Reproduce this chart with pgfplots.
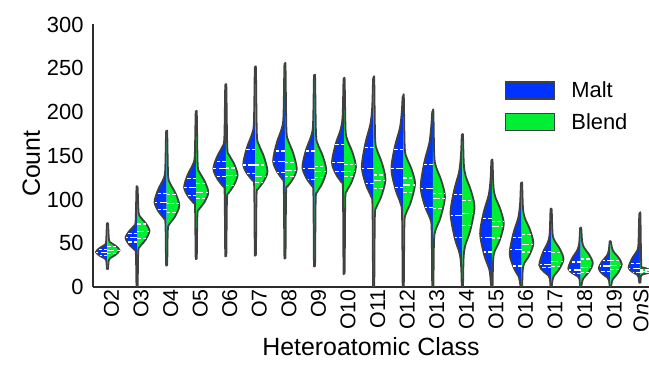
\documentclass[border=0pt]{standalone}
\usepackage{fontspec}
\setmainfont{Liberation Sans}
\usepackage{pgfplots}
\pgfplotsset{compat=1.18}
\usetikzlibrary{calc}
\definecolor{maltblue}{RGB}{0,51,255}
\definecolor{blendgreen}{RGB}{0,238,51}
\definecolor{vgray}{RGB}{64,64,64}
\definecolor{axgray}{RGB}{45,45,45}
\pgfplotsset{
  maltside/.style={forget plot, fill=maltblue, draw=vgray, line width=1.8pt, smooth, tension=0.5, line join=round},
  blendside/.style={forget plot, fill=blendgreen, draw=vgray, line width=1.8pt, smooth, tension=0.5, line join=round},
}
\newcommand{\halfL}[2]{\addplot[maltside] table[row sep=\\, x expr={#1-\thisrowno{1}}, y expr={\thisrowno{0}}] {#2};}
\newcommand{\halfR}[2]{\addplot[blendside] table[row sep=\\, x expr={#1+\thisrowno{1}}, y expr={\thisrowno{0}}] {#2};}
\begin{document}
\begin{tikzpicture}
\begin{axis}[
  scale only axis, width=556bp, height=262.5bp,
  xmin=-0.49, xmax=18.31, ymin=0, ymax=300,
  axis x line*=bottom, axis y line*=left,
  axis line style={axgray, line width=1.4pt, -},
  xtick={0,1,2,3,4,5,6,7,8,9,10,11,12,13,14,15,16,17,18},
  xticklabels={O2,O3,O4,O5,O6,O7,O8,O9,O10,O11,O12,O13,O14,O15,O16,O17,O18,O19,\raisebox{6bp}{O\textit{n}S}},
  ytick={0,50,100,150,200,250,300},
  major tick length=0pt,
  xticklabel style={rotate=90, anchor=east, font=\fontsize{21.5}{26}\selectfont, inner xsep=2bp, inner ysep=0pt, yshift=-4bp},
  yticklabel style={font=\fontsize{22}{26}\selectfont, xshift=-6bp},
  /pgf/number format/assume math mode=true,
  xlabel={Heteroatomic Class}, ylabel={Count},
  label style={font=\fontsize{25}{30}\selectfont},
  ylabel style={xshift=-8bp},
  unbounded coords=jump,
  legend style={draw=none, fill=none, at={(0.741,0.79)}, anchor=north west,
    font=\fontsize{22}{26}\selectfont, row sep=10bp, inner sep=0pt,
    /tikz/every odd column/.append style={column sep=14bp}},
  legend cell align=left,
  legend image code/.code={\draw[#1] (0bp,-8.5bp) rectangle (49bp,8.5bp);},
]
\coordinate (BL) at (rel axis cs:0,0);
\coordinate (TR) at (rel axis cs:1,1);
\addlegendimage{fill=maltblue, draw=vgray, line width=1.2pt}
\addlegendentry{Malt}
\addlegendimage{fill=blendgreen, draw=vgray, line width=1.2pt}
\addlegendentry{Blend}

\halfL{0}{21 0\\ 21 0.02\\ 30 0.04\\ 32.5 0.086\\ 35.5 0.254\\ 40 0.39\\ 44.4 0.273\\ 47.9 0.109\\ 51 0.05\\ 72 0.02\\ 72 0\\}
\halfR{0}{21 0\\ 21 0.02\\ 30 0.04\\ 33 0.09\\ 36.6 0.267\\ 42 0.41\\ 46.8 0.287\\ 50.6 0.115\\ 54 0.05\\ 72 0.02\\ 72 0\\}
\halfL{1}{1 0\\ 1 0.02\\ 38 0.04\\ 42.5 0.086\\ 47.9 0.254\\ 56 0.39\\ 63.6 0.273\\ 69.7 0.109\\ 75 0.05\\ 113 0.02\\ 113 0\\}
\halfR{1}{1 0\\ 1 0.02\\ 40 0.04\\ 46 0.092\\ 53.2 0.273\\ 64 0.42\\ 72.8 0.294\\ 79.8 0.118\\ 86 0.05\\ 113 0.02\\ 113 0\\}
\halfL{2}{27 0\\ 27 0.02\\ 72 0.04\\ 78.3 0.09\\ 85.8 0.267\\ 97 0.41\\ 111.4 0.287\\ 122.9 0.115\\ 133 0.05\\ 176 0.02\\ 176 0\\}
\halfR{2}{27 0\\ 27 0.02\\ 65 0.04\\ 72 0.095\\ 80.4 0.28\\ 93 0.43\\ 107 0.301\\ 118.2 0.12\\ 128 0.05\\ 176 0.02\\ 176 0\\}
\halfL{3}{35 0\\ 35 0.02\\ 90 0.04\\ 96 0.09\\ 103.2 0.267\\ 114 0.41\\ 128.4 0.287\\ 139.9 0.115\\ 150 0.05\\ 198 0.02\\ 198 0\\}
\halfR{3}{35 0\\ 35 0.02\\ 82 0.04\\ 88.5 0.09\\ 96.3 0.267\\ 108 0.41\\ 120.8 0.287\\ 131 0.115\\ 140 0.05\\ 198 0.02\\ 198 0\\}
\halfL{4}{39 0\\ 39 0.02\\ 108 0.04\\ 114.8 0.092\\ 122.9 0.273\\ 135 0.42\\ 149 0.294\\ 160.2 0.118\\ 170 0.05\\ 228 0.02\\ 228 0\\}
\halfR{4}{39 0\\ 39 0.02\\ 100 0.04\\ 107 0.088\\ 115.4 0.26\\ 128 0.40\\ 140.8 0.28\\ 151 0.112\\ 160 0.05\\ 228 0.02\\ 228 0\\}
\halfL{5}{40 0\\ 40 0.02\\ 115 0.04\\ 121.3 0.09\\ 128.8 0.267\\ 140 0.41\\ 159.2 0.287\\ 174.6 0.115\\ 188 0.05\\ 248 0.02\\ 248 0\\}
\halfR{5}{40 0\\ 40 0.02\\ 105 0.04\\ 111.8 0.09\\ 119.9 0.267\\ 132 0.41\\ 149.2 0.287\\ 163 0.115\\ 175 0.05\\ 248 0.02\\ 248 0\\}
\halfL{6}{37 0\\ 37 0.02\\ 116 0.04\\ 123 0.088\\ 131.4 0.26\\ 144 0.40\\ 164.4 0.28\\ 180.7 0.112\\ 195 0.05\\ 252 0.02\\ 252 0\\}
\halfR{6}{37 0\\ 37 0.02\\ 108 0.04\\ 114.8 0.088\\ 122.9 0.26\\ 135 0.40\\ 153 0.28\\ 167.4 0.112\\ 180 0.05\\ 252 0.02\\ 252 0\\}
\halfL{7}{28 0\\ 28 0.02\\ 108 0.04\\ 115.3 0.09\\ 124 0.267\\ 137 0.41\\ 156.6 0.287\\ 172.3 0.115\\ 186 0.05\\ 239 0.02\\ 239 0\\}
\halfR{7}{28 0\\ 28 0.02\\ 100 0.04\\ 108.3 0.088\\ 118.2 0.26\\ 133 0.40\\ 149.8 0.28\\ 163.2 0.112\\ 175 0.05\\ 239 0.02\\ 239 0\\}
\halfL{8}{20 0\\ 20 0.02\\ 112 0.04\\ 119.5 0.09\\ 128.5 0.267\\ 142 0.41\\ 163.2 0.287\\ 180.2 0.115\\ 195 0.05\\ 236 0.02\\ 236 0\\}
\halfR{8}{20 0\\ 20 0.02\\ 100 0.04\\ 109.3 0.088\\ 120.4 0.26\\ 137 0.40\\ 154.2 0.28\\ 168 0.112\\ 180 0.05\\ 236 0.02\\ 236 0\\}
\halfL{9}{0 0\\ 0 0.02\\ 92 0.04\\ 103.3 0.088\\ 116.8 0.26\\ 137 0.40\\ 164.2 0.28\\ 186 0.112\\ 205 0.05\\ 237 0.02\\ 237 0\\}
\halfR{9}{0 0\\ 0 0.02\\ 80 0.04\\ 90.8 0.088\\ 103.7 0.26\\ 123 0.40\\ 141.8 0.28\\ 156.8 0.112\\ 170 0.05\\ 237 0.02\\ 237 0\\}
\halfL{10}{4 0\\ 4 0.02\\ 82 0.04\\ 95.3 0.088\\ 111.2 0.26\\ 135 0.40\\ 161 0.28\\ 181.8 0.112\\ 200 0.05\\ 217 0.02\\ 217 0\\}
\halfR{10}{4 0\\ 4 0.02\\ 72 0.04\\ 83.5 0.088\\ 97.3 0.26\\ 118 0.40\\ 134.8 0.28\\ 148.2 0.112\\ 160 0.05\\ 217 0.02\\ 217 0\\}
\halfL{11}{0 0\\ 0 0.02\\ 66 0.04\\ 78 0.09\\ 92.4 0.267\\ 114 0.41\\ 142.4 0.287\\ 165.1 0.115\\ 185 0.05\\ 200 0.02\\ 200 0\\}
\halfR{11}{0 0\\ 0 0.02\\ 52 0.04\\ 64.8 0.09\\ 80 0.267\\ 103 0.41\\ 121.8 0.287\\ 136.8 0.115\\ 150 0.05\\ 200 0.02\\ 200 0\\}
\halfL{12}{0 0\\ 0 0.02\\ 22 0.04\\ 37.5 0.088\\ 56.1 0.26\\ 84 0.40\\ 110.4 0.28\\ 131.5 0.112\\ 150 0.05\\ 173 0.02\\ 173 0\\}
\halfR{12}{0 0\\ 0 0.02\\ 32 0.04\\ 46.8 0.09\\ 64.5 0.267\\ 91 0.41\\ 110.6 0.287\\ 126.3 0.115\\ 140 0.05\\ 173 0.02\\ 173 0\\}
\halfL{13}{0 0\\ 0 0.02\\ 6 0.04\\ 19.8 0.088\\ 36.3 0.26\\ 61 0.40\\ 85.4 0.28\\ 104.9 0.112\\ 122 0.05\\ 144 0.02\\ 144 0\\}
\halfR{13}{0 0\\ 0 0.02\\ 30 0.04\\ 40.5 0.088\\ 53.1 0.26\\ 72 0.40\\ 89.2 0.28\\ 103 0.112\\ 115 0.05\\ 144 0.02\\ 144 0\\}
\halfL{14}{0 0\\ 0 0.02\\ 2 0.04\\ 11 0.088\\ 21.8 0.26\\ 38 0.40\\ 60.8 0.28\\ 79 0.112\\ 95 0.05\\ 118 0.02\\ 118 0\\}
\halfR{14}{0 0\\ 0 0.02\\ 19 0.04\\ 26.8 0.088\\ 36 0.26\\ 50 0.40\\ 66 0.28\\ 78.8 0.112\\ 90 0.05\\ 118 0.02\\ 118 0\\}
\halfL{15}{0 0\\ 0 0.02\\ 9 0.04\\ 13 0.088\\ 17.8 0.26\\ 25 0.40\\ 39.4 0.28\\ 50.9 0.112\\ 61 0.05\\ 88 0.02\\ 88 0\\}
\halfR{15}{0 0\\ 0 0.02\\ 6 0.04\\ 12.5 0.092\\ 20.3 0.273\\ 32 0.42\\ 43.6 0.294\\ 52.9 0.118\\ 61 0.05\\ 88 0.02\\ 88 0\\}
\halfL{16}{0 0\\ 0 0.02\\ 9 0.04\\ 12 0.092\\ 15.6 0.273\\ 21 0.42\\ 32.6 0.294\\ 41.9 0.118\\ 50 0.05\\ 67 0.02\\ 67 0\\}
\halfR{16}{0 0\\ 0 0.02\\ 4 0.04\\ 9.8 0.09\\ 16.7 0.267\\ 27 0.41\\ 37 0.287\\ 45 0.115\\ 52 0.05\\ 67 0.02\\ 67 0\\}
\halfL{17}{0 0\\ 0 0.02\\ 7 0.04\\ 10.5 0.086\\ 14.7 0.254\\ 21 0.39\\ 29.4 0.273\\ 36.1 0.109\\ 42 0.05\\ 52 0.02\\ 52 0\\}
\halfR{17}{0 0\\ 0 0.02\\ 3 0.04\\ 8.8 0.086\\ 15.7 0.254\\ 26 0.39\\ 34 0.273\\ 40.4 0.109\\ 46 0.05\\ 52 0.02\\ 52 0\\}
\halfL{18}{5 0\\ 5 0.02\\ 11 0.04\\ 13.8 0.084\\ 17.1 0.247\\ 22 0.38\\ 32.4 0.266\\ 40.7 0.106\\ 48 0.05\\ 82 0.02\\ 82 0\\}
\halfR{18}{5 0\\ 5 0.02\\ 13 0.04\\ 14.3 0.088\\ 15.8 0.26\\ 18 0.40\\ 20.4 0.28\\ 22.3 0.112\\ 24 0.05\\ 82 0.02\\ 82 0\\}

% quartile lines (q1, q3)
\addplot[forget plot, white, line width=1.2pt, dash pattern=on 3.5pt off 2pt] coordinates {
(0,36)(-0.269,36) (nan,nan) (0,43)(-0.31,43) (nan,nan)
(0,38)(0.304,38) (nan,nan) (0,46)(0.307,46) (nan,nan)
(1,51.5)(0.686,51.5) (nan,nan) (1,61)(0.687,61) (nan,nan)
(1,55)(1.298,55) (nan,nan) (1,72)(1.305,72) (nan,nan)
(2,88.5)(1.699,88.5) (nan,nan) (2,106.5)(1.671,106.5) (nan,nan)
(2,85)(2.335,85) (nan,nan) (2,105.5)(2.315,105.5) (nan,nan)
(3,105)(2.709,105) (nan,nan) (3,124)(2.675,124) (nan,nan)
(3,101)(3.324,101) (nan,nan) (3,118.5)(3.309,118.5) (nan,nan)
(4,126)(3.689,126) (nan,nan) (4,143.5)(3.657,143.5) (nan,nan)
(4,116)(4.267,116) (nan,nan) (4,136)(4.325,136) (nan,nan)
(5,130)(4.718,130) (nan,nan) (5,157)(4.699,157) (nan,nan)
(5,119)(5.247,119) (nan,nan) (5,139.5)(5.356,139.5) (nan,nan)
(6,131)(5.748,131) (nan,nan) (6,155.5)(5.668,155.5) (nan,nan)
(6,126)(6.296,126) (nan,nan) (6,142)(6.353,142) (nan,nan)
(7,122.5)(6.764,122.5) (nan,nan) (7,155.5)(6.706,155.5) (nan,nan)
(7,125)(7.324,125) (nan,nan) (7,138)(7.364,138) (nan,nan)
(8,132)(7.696,132) (nan,nan) (8,162.5)(7.709,162.5) (nan,nan)
(8,126)(8.307,126) (nan,nan) (8,140)(8.379,140) (nan,nan)
(9,118)(8.732,118) (nan,nan) (9,159.5)(8.699,159.5) (nan,nan)
(9,113)(9.327,113) (nan,nan) (9,128)(9.368,128) (nan,nan)
(10,114)(9.724,114) (nan,nan) (10,157.5)(9.704,157.5) (nan,nan)
(10,108)(10.332,108) (nan,nan) (10,124.5)(10.354,124.5) (nan,nan)
(11,91)(10.75,91) (nan,nan) (11,140)(10.703,140) (nan,nan)
(11,90)(11.329,90) (nan,nan) (11,107)(11.384,107) (nan,nan)
(12,57)(11.735,57) (nan,nan) (12,106)(11.7,106) (nan,nan)
(12,70.5)(12.299,70.5) (nan,nan) (12,99)(12.36,99) (nan,nan)
(13,40)(12.719,40) (nan,nan) (13,78.5)(12.686,78.5) (nan,nan)
(13,56)(13.281,56) (nan,nan) (13,75)(13.379,75) (nan,nan)
(14,24)(13.721,24) (nan,nan) (14,57)(13.7,57) (nan,nan)
(14,40)(14.3,40) (nan,nan) (14,60)(14.325,60) (nan,nan)
(15,22)(14.658,22) (nan,nan) (15,41)(14.743,41) (nan,nan)
(15,23)(15.307,23) (nan,nan) (15,39)(15.344,39) (nan,nan)
(16,15.5)(15.73,15.5) (nan,nan) (16,28.5)(15.661,28.5) (nan,nan)
(16,17)(16.271,17) (nan,nan) (16,32)(16.349,32) (nan,nan)
(17,18)(16.675,18) (nan,nan) (17,30)(16.742,30) (nan,nan)
(17,20)(17.311,20) (nan,nan) (17,30)(17.332,30) (nan,nan)
(18,17)(17.755,17) (nan,nan) (18,27)(17.675,27) (nan,nan)
(18,16.5)(18.305,16.5) (nan,nan) (18,19.5)(18.325,19.5)
};
% median lines
\addplot[forget plot, white, line width=1.2pt, dash pattern=on 7pt off 2.5pt] coordinates {
(0,39.5)(-0.375,39.5) (nan,nan) (0,42)(0.41,42) (nan,nan)
(1,56.5)(0.618,56.5) (nan,nan) (1,63)(1.406,63) (nan,nan)
(2,97)(1.59,97) (nan,nan) (2,95)(2.412,95) (nan,nan)
(3,114)(2.59,114) (nan,nan) (3,108)(3.41,108) (nan,nan)
(4,135)(3.58,135) (nan,nan) (4,127)(4.389,127) (nan,nan)
(5,139.5)(4.596,139.5) (nan,nan) (5,126.5)(5.345,126.5) (nan,nan)
(6,143.5)(5.606,143.5) (nan,nan) (6,133.5)(6.383,133.5) (nan,nan)
(7,135)(6.612,135) (nan,nan) (7,132)(7.391,132) (nan,nan)
(8,142.5)(7.593,142.5) (nan,nan) (8,132)(8.358,132) (nan,nan)
(9,135)(8.614,135) (nan,nan) (9,121.5)(9.389,121.5) (nan,nan)
(10,135)(9.6,135) (nan,nan) (10,116.5)(10.39,116.5) (nan,nan)
(11,113)(10.597,113) (nan,nan) (11,101)(11.398,101) (nan,nan)
(12,81.5)(11.613,81.5) (nan,nan) (12,84)(12.372,84) (nan,nan)
(13,57)(12.623,57) (nan,nan) (13,69)(13.378,69) (nan,nan)
(14,43)(13.626,43) (nan,nan) (14,49)(14.39,49) (nan,nan)
(15,26)(14.608,26) (nan,nan) (15,29.5)(15.389,29.5) (nan,nan)
(16,19.5)(15.621,19.5) (nan,nan) (16,22)(16.34,22) (nan,nan)
(17,24)(16.652,24) (nan,nan) (17,25)(17.377,25) (nan,nan)
(18,21)(17.647,21) (nan,nan) (18,18)(18.4,18)
};
\end{axis}
\pgfresetboundingbox
\path[use as bounding box] ($(BL)+(-93bp,-86bp)$) rectangle ($(TR)+(0bp,24.5bp)$);
\end{tikzpicture}
\end{document}
